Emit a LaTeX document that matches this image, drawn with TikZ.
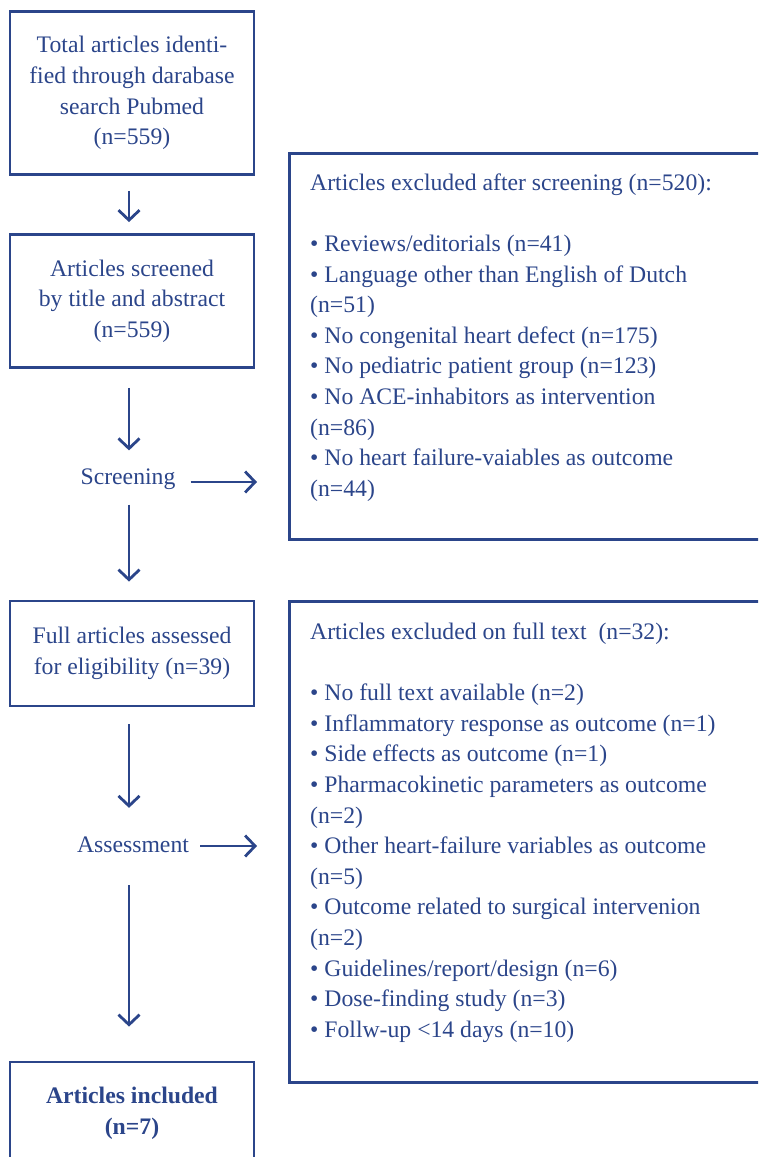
\documentclass[tikz,border=0pt]{standalone}
\usepackage{fontspec}
\setmainfont{Liberation Serif}
\usetikzlibrary{arrows.meta}
\definecolor{flow}{RGB}{43,69,138}
\begin{document}
\begin{tikzpicture}[x=1pt,y=-1pt,
  every node/.style={text=flow, font=\fontsize{23.7}{30.6}\selectfont},
  stage/.style={draw=flow, line width=2.8pt, minimum width=244pt, align=center, inner sep=0pt},
  note/.style={draw=flow, line width=2.8pt, anchor=north west, minimum width=520pt, inner sep=0pt},
  listtext/.style={anchor=north west, align=left, inner sep=0pt},
  phase/.style={inner sep=0pt},
  arr/.style={draw=flow, line width=2.8pt, -{Straight Barb[length=10pt,width=21pt]}}
]
\useasboundingbox (0,0) rectangle (758,1157);
\clip (0,0) rectangle (758,1157);

% flow column
\coordinate (axis) at (129,0);
\node[stage, minimum height=163pt] (id) at (132,93)
  {Total articles identi-\\fied through darabase\\search Pubmed\\(n=559)};
\node[stage, minimum height=133pt] (sc) at (132,301)
  {Articles screened\\by title and abstract\\(n=559)};
\node[phase] (scr) at (128,479) {Screening};
\node[stage, minimum height=105pt] (fa) at (132,653.5)
  {Full articles assessed\\for eligibility (n=39)};
\node[phase] (asm) at (133,845) {Assessment};
\node[stage, minimum height=102pt, font=\fontsize{23.7}{30.6}\selectfont\bfseries] (inc) at (132,1113)
  {Articles included\\(n=7)};

% exclusion boxes
\node[note, minimum height=386pt] (ex1) at (288,152) {};
\node[listtext] (ex1t) at (310,173.5)
  {Articles excluded after screening (n=520):\\[30.6pt]
   • Reviews/editorials (n=41)\\
   • Language other than English of Dutch\\
   (n=51)\\
   • No congenital heart defect (n=175)\\
   • No pediatric patient group (n=123)\\
   • No ACE-inhabitors as intervention\\
   (n=86)\\
   • No heart failure-vaiables as outcome\\
   (n=44)};
\node[note, minimum height=481pt] (ex2) at (288,600) {};
\node[listtext] (ex2t) at (310,622.5)
  {Articles excluded on full text\ \ (n=32):\\[30.6pt]
   • No full text available (n=2)\\
   • Inflammatory response as outcome (n=1)\\
   • Side effects as outcome (n=1)\\
   • Pharmacokinetic parameters as outcome\\
   (n=2)\\
   • Other heart-failure variables as outcome\\
   (n=5)\\
   • Outcome related to surgical intervenion\\
   (n=2)\\
   • Guidelines/report/design (n=6)\\
   • Dose-finding study (n=3)\\
   • Follw-up <14 days (n=10)};

% arrows
\draw[arr, shorten <=15pt, shorten >=11pt] (id.south -| axis) -- (sc.north -| axis);
\draw[arr, shorten <=19pt, shorten >=18pt] (sc.south -| axis) -- (scr.north -| axis);
\draw[arr, shorten <=15pt, shorten >=18pt] (scr.south -| axis) -- (fa.north -| axis);
\draw[arr, shorten <=17pt, shorten >=29pt] (fa.south -| axis) -- (asm.north -| axis);
\draw[arr, shorten <=32pt, shorten >=34pt] (asm.south -| axis) -- (inc.north -| axis);
\draw[arr, shorten <=15pt, shorten >=31pt] ([yshift=-3pt]scr.east) -- ([yshift=-3pt]scr.east -| ex1.west);
\draw[arr, shorten <=11pt, shorten >=31pt] ([yshift=-1pt]asm.east) -- ([yshift=-1pt]asm.east -| ex2.west);
\end{tikzpicture}
\end{document}
